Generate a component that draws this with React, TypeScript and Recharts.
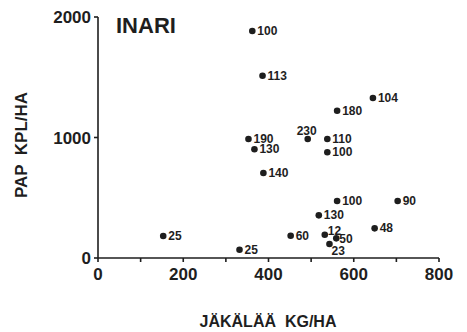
import React from 'react';
import { ScatterChart, Scatter, XAxis, YAxis } from 'recharts';

// lichen biomass (kg/ha) per site
const lichen = [362, 386, 561, 645, 353, 367, 492, 538, 538, 388, 561, 703, 518, 649, 532, 559, 543, 452, 153, 332];
// pellet groups (kpl/ha) per site
const pellets = [1884, 1513, 1222, 1328, 988, 902, 988, 988, 877, 705, 473, 473, 354, 246, 193, 163, 116, 185, 182, 69];
// number printed next to each point
const pointLabels = ['100', '113', '180', '104', '190', '130', '230', '110', '100', '140', '100', '90', '130', '48', '12', '50', '23', '60', '25', '25'];

const xTicks = [0, 100, 200, 300, 400, 500, 600, 700, 800];
const yTicks = [0, 1000, 2000];

// where the label sits relative to its dot (default: right)
const labelPlacement: Record<string, 'above' | 'upright' | 'downright' | 'lowright'> = {
  '6': 'above',
  '14': 'upright',
  '15': 'downright',
  '16': 'lowright',
};

const data = lichen.map((x, i) => ({ x, y: pellets[i], label: pointLabels[i], idx: i }));

const INK = '#1e1e1e';
const tickStyle = { fill: INK, fontSize: 17, fontWeight: 700, fontFamily: 'Liberation Sans, Arial, sans-serif' };

const Dot = (props: any) => {
  const { cx, cy, payload } = props;
  const place = labelPlacement[String(payload.idx)];
  let tx = cx + 5;
  let ty = cy + 4;
  let anchor: 'start' | 'middle' = 'start';
  if (place === 'above') {
    tx = cx - 1;
    ty = cy - 4;
    anchor = 'middle';
  } else if (place === 'upright') {
    tx = cx + 3;
    ty = cy;
  } else if (place === 'downright') {
    tx = cx + 3;
    ty = cy + 5;
  } else if (place === 'lowright') {
    tx = cx + 2;
    ty = cy + 11;
  }
  return (
    <g>
      <circle cx={cx} cy={cy} r={3.3} fill={INK} />
      <text
        x={tx}
        y={ty}
        textAnchor={anchor}
        fill={INK}
        fontSize={12}
        fontWeight={700}
        fontFamily="Liberation Sans Narrow, Arial Narrow, sans-serif"
      >
        {payload.label}
      </text>
    </g>
  );
};

export default function App() {
  return (
    <div style={{ position: 'absolute', left: 0, top: 0, width: 467, height: 332, background: '#fff' }}>
      <ScatterChart width={467} height={332} margin={{ top: 17, right: 28, bottom: 0, left: 0 }}>
        <XAxis
          type="number"
          dataKey="x"
          domain={[0, 800]}
          ticks={xTicks}
          interval={0}
          tickFormatter={(v: number) => (v % 200 === 0 ? String(v) : '')}
          height={74}
          tickSize={4}
          tickMargin={6}
          stroke={INK}
          strokeWidth={1.6}
          tick={tickStyle}
        />
        <YAxis
          type="number"
          dataKey="y"
          domain={[0, 2000]}
          ticks={yTicks}
          interval={0}
          width={98}
          tickSize={4}
          tickMargin={3}
          stroke={INK}
          strokeWidth={1.6}
          tick={tickStyle}
        />
        <Scatter data={data} shape={Dot} isAnimationActive={false} />
        <text x={116} y={33} fill={INK} fontSize={22} fontWeight={700} fontFamily="Liberation Sans, Arial, sans-serif">
          INARI
        </text>
        <text
          x={0}
          y={0}
          transform="translate(27,145) rotate(-90)"
          textAnchor="middle"
          fill={INK}
          fontSize={17}
          fontWeight={700}
          fontFamily="Liberation Sans, Arial, sans-serif"
          style={{ whiteSpace: 'pre' }}
        >
          PAP  KPL/HA
        </text>
        <text
          x={268}
          y={327}
          textAnchor="middle"
          fill={INK}
          fontSize={16}
          fontWeight={700}
          fontFamily="Liberation Sans, Arial, sans-serif"
          style={{ whiteSpace: 'pre' }}
        >
          JÄKÄLÄÄ  KG/HA
        </text>
      </ScatterChart>
    </div>
  );
}
